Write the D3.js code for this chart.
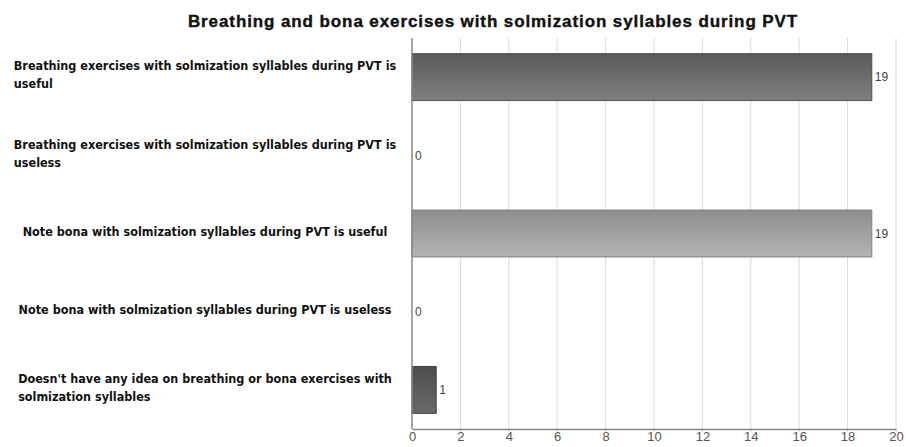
<!DOCTYPE html>
<html>
<head>
<meta charset="utf-8">
<script src="https://cdn.jsdelivr.net/npm/d3@7"></script>
<style>
  body { margin: 0; background: #fff; }
</style>
</head>
<body>
<div id="chart"></div>
<script>
const title = "Breathing and bona exercises with solmization syllables during PVT";
const categories = [
  "Breathing exercises with solmization syllables during PVT is useful",
  "Breathing exercises with solmization syllables during PVT is useless",
  "Note bona with solmization syllables during PVT is useful",
  "Note bona with solmization syllables during PVT is useless",
  "Doesn't have any idea on breathing or bona exercises with solmization syllables"
];
const values = [19, 0, 19, 0, 1];
const xTicks = [0, 2, 4, 6, 8, 10, 12, 14, 16, 18, 20];
// gradient stops (top, bottom) for each bar
const barShades = [
  ["#5a5a5a", "#808080"],
  ["#8e8e8e", "#b4b4b4"],
  ["#8e8e8e", "#b4b4b4"],
  ["#8e8e8e", "#b4b4b4"],
  ["#4c4c4c", "#6a6a6a"]
];

const width = 906, height = 447;
const margin = {top: 38, right: 10, bottom: 18, left: 412};

const svg = d3.select("#chart").append("svg")
    .attr("width", width)
    .attr("height", height)
    .attr("font-family", "'Liberation Sans', Arial, sans-serif");

const defs = svg.append("defs");
barShades.forEach((s, i) => {
  const g = defs.append("linearGradient")
      .attr("id", "grad" + i)
      .attr("x1", 0).attr("y1", 0).attr("x2", 0).attr("y2", 1);
  g.append("stop").attr("offset", "0%").attr("stop-color", s[0]);
  g.append("stop").attr("offset", "100%").attr("stop-color", s[1]);
});

const x = d3.scaleLinear().domain([0, 20]).range([margin.left, 896]);
const y = d3.scaleBand().domain(d3.range(categories.length))
    .range([margin.top, 429]).paddingInner(0.4).paddingOuter(0.2);

// title
svg.append("text")
    .attr("x", 493)
    .attr("y", 27)
    .attr("text-anchor", "middle")
    .attr("font-weight", "bold")
    .attr("font-size", 17)
    .attr("letter-spacing", 0.9)
    .attr("fill", "#111")
    .attr("stroke", "#111")
    .attr("stroke-width", 0.4)
    .text(title);

// gridlines
svg.append("g")
  .selectAll("line")
  .data(xTicks.slice(1))
  .join("line")
    .attr("x1", d => x(d)).attr("x2", d => x(d))
    .attr("y1", margin.top).attr("y2", 432)
    .attr("stroke", "#dcdcdc")
    .attr("stroke-width", 1);

// bars
svg.append("g")
  .selectAll("rect")
  .data(values)
  .join("rect")
    .attr("x", x(0))
    .attr("y", (d, i) => y(i))
    .attr("width", d => x(d) - x(0))
    .attr("height", y.bandwidth())
    .attr("fill", (d, i) => `url(#grad${i})`)
    .attr("stroke", (d, i) => d3.color(barShades[i][0]).darker(0.3))
    .attr("stroke-width", d => d > 0 ? 1 : 0);

// value labels
svg.append("g")
  .selectAll("text")
  .data(values)
  .join("text")
    .attr("x", d => x(d) + 3)
    .attr("y", (d, i) => y(i) + y.bandwidth() / 2)
    .attr("dy", "0.35em")
    .attr("font-size", 12)
    .attr("fill", "#444")
    .text(d => d);

// axes
const xAxis = d3.axisBottom(x).tickValues(xTicks).tickSize(0).tickSizeOuter(0);
const gx = svg.append("g")
    .attr("transform", `translate(0,429)`)
    .call(xAxis);
gx.select(".domain").attr("stroke", "#888").attr("stroke-width", 1.5);
gx.selectAll(".tick text")
    .attr("font-size", 13)
    .attr("fill", "#555")
    .attr("font-family", "'Liberation Sans', Arial, sans-serif")
    .attr("y", 3)
    .attr("dy", "0.71em");

svg.append("line")
    .attr("x1", x(0)).attr("x2", x(0))
    .attr("y1", margin.top).attr("y2", 429)
    .attr("stroke", "#888")
    .attr("stroke-width", 1.5);

// category labels: wrapped, block centred, lines left-aligned
const labelCenter = 205, maxW = 390, lineH = 18;
const labels = svg.append("g")
    .attr("font-family", "'Liberation Sans Narrow', 'DejaVu Sans Condensed', Arial, sans-serif")
    .attr("font-weight", "bold")
    .attr("font-size", 12.5)
    .attr("fill", "#111");

categories.forEach((cat, i) => {
  const t = labels.append("text");
  const words = cat.split(" ");
  let lines = [], cur = [];
  const probe = t.append("tspan");
  words.forEach(w => {
    cur.push(w);
    probe.text(cur.join(" "));
    if (probe.node().getComputedTextLength() > maxW && cur.length > 1) {
      cur.pop();
      lines.push(cur.join(" "));
      cur = [w];
    }
  });
  lines.push(cur.join(" "));
  probe.remove();

  const widths = lines.map(l => { const p = t.append("tspan").text(l); const w = p.node().getComputedTextLength(); p.remove(); return w; });
  const blockW = d3.max(widths);
  const x0 = labelCenter - blockW / 2;
  const cy = y(i) + y.bandwidth() / 2 - 2;
  const y0 = cy - (lines.length - 1) * lineH / 2;
  lines.forEach((l, k) => {
    t.append("tspan")
      .attr("x", x0)
      .attr("y", y0 + k * lineH)
      .attr("dy", "0.35em")
      .text(l);
  });
});
</script>
</body>
</html>
